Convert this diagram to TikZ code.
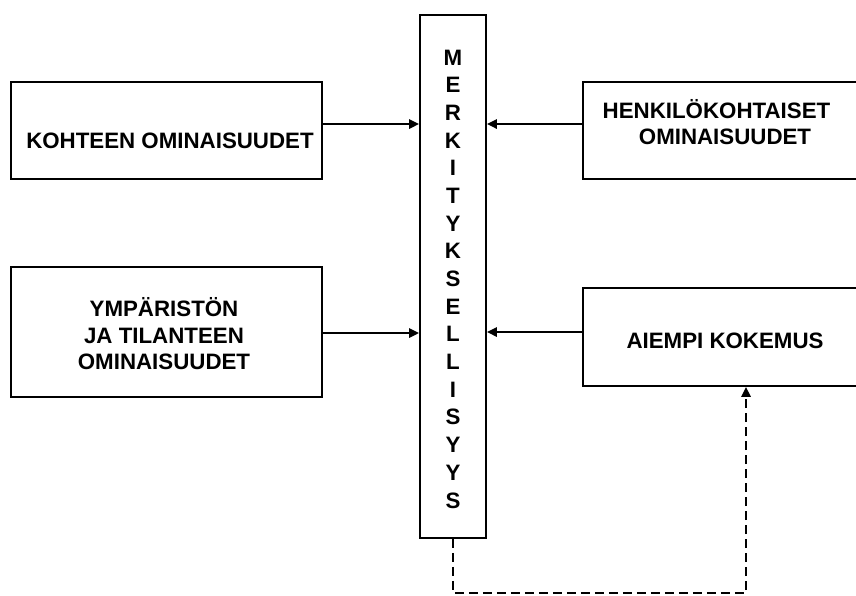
\documentclass[tikz,border=0pt]{standalone}
\usepackage{fontspec}
\setmainfont{Liberation Sans}
\usetikzlibrary{arrows.meta}
\begin{document}
\begin{tikzpicture}[x=1pt,y=-1pt,
  box/.style={draw, line width=1.9pt, rectangle, inner sep=0pt},
  lbl/.style={font=\bfseries\fontsize{22.3}{26}\selectfont, anchor=base, inner sep=0pt},
  tip/.style={-{Triangle[length=10pt,width=9.5pt]}},
  feed/.style={line width=1.6pt, tip},
  back/.style={line width=1.6pt, dash pattern=on 9pt off 5pt, tip}]
\clip (0,0) rectangle (856,595);

% boxes
\node[box, minimum width=311pt, minimum height=97pt]  (kohde)  at (166.5,130.5) {};
\node[box, minimum width=311pt, minimum height=130pt] (ymp)    at (166.5,332) {};
\node[box, minimum width=287pt, minimum height=97pt]  (henk)   at (726.5,130.5) {};
\node[box, minimum width=287pt, minimum height=98pt]  (aiempi) at (726.5,337) {};
\node[box, minimum width=66pt,  minimum height=523pt] (merk)   at (453,276.5) {};

% labels
\node[lbl] (t1) at (170,148.3) {KOHTEEN OMINAISUUDET};
\node[lbl] (t2a) at (164,316.7) {YMPÄRISTÖN};
\node[lbl] (t2b) at (164,343.3) {JA TILANTEEN};
\node[lbl] (t2c) at (164,369.3) {OMINAISUUDET};
\node[lbl] (t3a) at (716.5,118) {HENKILÖKOHTAISET};
\node[lbl] (t3b) at (725,144) {OMINAISUUDET};
\node[lbl] (t4) at (725,348) {AIEMPI KOKEMUS};

% vertical word in the central column
\foreach \ch [count=\i from 0] in {M,E,R,K,I,T,Y,K,S,E,L,L,I,S,Y,Y,S}
  \node[lbl] (v\i) at (453,65+27.69*\i) {\ch};

% connectors
\coordinate (ytop) at (0,124);
\coordinate (ybl) at (0,333);
\coordinate (ybr) at (0,332);
\coordinate (turn) at (746,593);
\draw[feed] (kohde.east |- ytop) -- (merk.west |- ytop);
\draw[feed] (henk.west |- ytop) -- (merk.east |- ytop);
\draw[feed] (ymp.east |- ybl) -- (merk.west |- ybl);
\draw[feed] (aiempi.west |- ybr) -- (merk.east |- ybr);
\draw[back] (merk.south) |- (turn) -- (aiempi.south -| turn);
\end{tikzpicture}
\end{document}
